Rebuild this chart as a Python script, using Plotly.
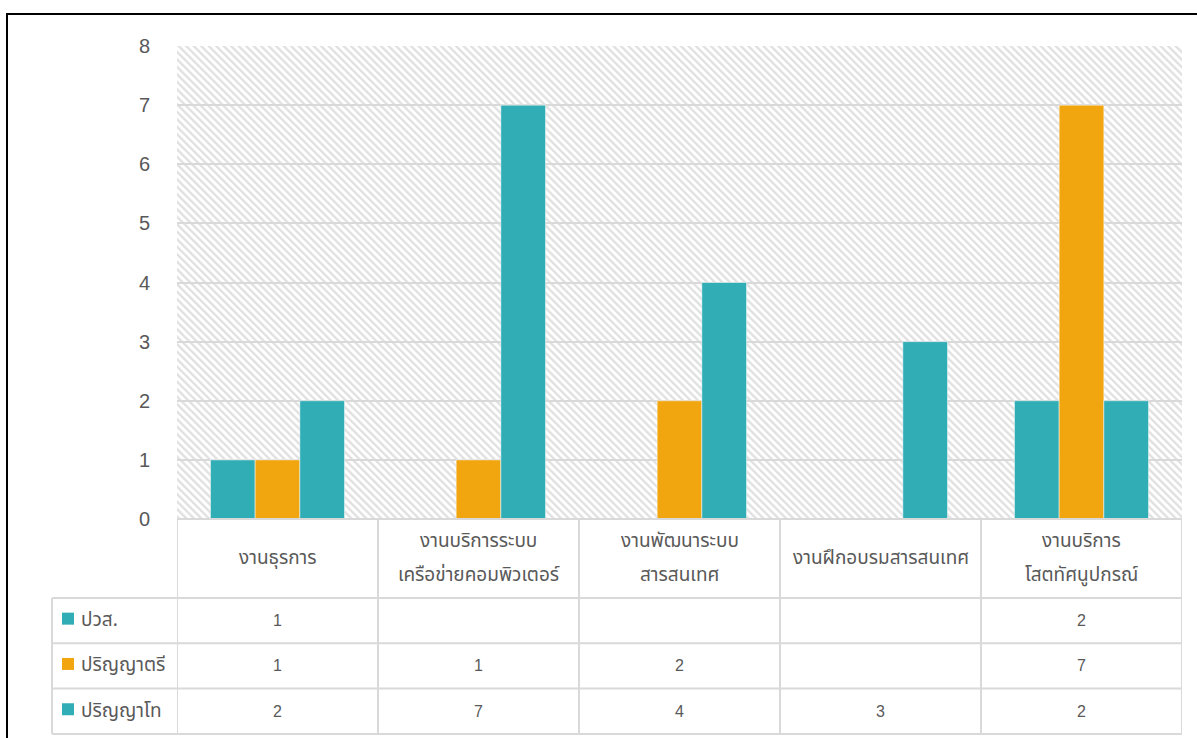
import base64
import plotly.graph_objects as go

categories = ["งานธุรการ", "งานบริการระบบ<br>เครือข่ายคอมพิวเตอร์", "งานพัฒนาระบบ<br>สารสนเทศ",
              "งานฝึกอบรมสารสนเทศ", "งานบริการ<br>โสตทัศนูปกรณ์"]
series_names = ["ปวส.", "ปริญญาตรี", "ปริญญาโท"]
diploma = [1, None, None, None, 2]
bachelor = [1, 1, 2, None, 7]
master = [2, 7, 4, 3, 2]
series_values = [diploma, bachelor, master]
series_colors = ["#31ADB6", "#F1A50F", "#31ADB6"]
y_ticks = [0, 1, 2, 3, 4, 5, 6, 7, 8]

THAI = "Tahoma, 'Noto Sans Thai', 'Leelawadee UI', sans-serif"
NUM = "'Liberation Sans', Arial, sans-serif"
TXT = "#595959"
GRID = "#D9D9D9"

# page geometry (pixels)
W, H = 1197, 738
TABLE_L, PLOT_L, PLOT_R = 52, 177, 1182
PLOT_T, PLOT_B = 46, 519
HEADER_B = 598
ROW_H = 45.3
TABLE_B = HEADER_B + ROW_H * len(series_names)
ML, MR, MT, MB = TABLE_L, W - PLOT_R, PLOT_T, H - round(TABLE_B)
paper_w = W - ML - MR
paper_h = H - MT - MB


def px(x):
    return (x - ML) / paper_w


def py(y):
    return (H - MB - y) / paper_h


fig = go.Figure()
for name, vals, col in zip(series_names, series_values, series_colors):
    fig.add_trace(go.Bar(
        x=list(range(len(categories))), y=vals, name=name,
        marker=dict(color=col, line=dict(color="rgba(255,255,255,0.5)", width=1)),
        showlegend=False, hoverinfo="y",
    ))

n = len(categories)
line = dict(color=GRID, width=2)
# data table: grid lines
for k in range(n + 1):
    fig.add_shape(type="line", xref="x", yref="paper", x0=k - 0.5, x1=k - 0.5,
                  y0=py(PLOT_B), y1=py(TABLE_B), line=line)
fig.add_shape(type="line", xref="paper", yref="paper", x0=px(TABLE_L), x1=px(TABLE_L),
              y0=py(HEADER_B), y1=py(TABLE_B), line=line)
fig.add_shape(type="line", xref="paper", yref="paper", x0=px(PLOT_L), x1=px(PLOT_R),
              y0=py(PLOT_B), y1=py(PLOT_B), line=line)
for r in range(len(series_names) + 1):
    yy = py(HEADER_B + r * ROW_H)
    fig.add_shape(type="line", xref="paper", yref="paper", x0=px(TABLE_L), x1=px(PLOT_R),
                  y0=yy, y1=yy, line=line)

# header texts
hdr_mid = (PLOT_B + HEADER_B) / 2
LINE_GAP = 34
for i, cat in enumerate(categories):
    parts = cat.split("<br>")
    for j, part in enumerate(parts):
        yc = hdr_mid + (j - (len(parts) - 1) / 2) * LINE_GAP
        fig.add_annotation(x=i, y=py(yc), xref="x", yref="paper", text=part, showarrow=False,
                           font=dict(family=THAI, size=19, color=TXT), xanchor="center", yanchor="middle")

# rows
for r, (name, vals, col) in enumerate(zip(series_names, series_values, series_colors)):
    yc = HEADER_B + (r + 0.5) * ROW_H
    fig.add_shape(type="rect", xref="paper", yref="paper", x0=px(62), x1=px(74),
                  y0=py(yc + 4), y1=py(yc - 8), line=dict(width=0), fillcolor=col)
    fig.add_annotation(x=px(79), y=py(yc), xref="paper", yref="paper", text=name, showarrow=False,
                       font=dict(family=THAI, size=19, color=TXT), xanchor="left", yanchor="middle")
    for i, v in enumerate(vals):
        if v is None:
            continue
        fig.add_annotation(x=i, y=py(yc), xref="x", yref="paper", text=str(v), showarrow=False,
                           font=dict(family=NUM, size=16, color=TXT), xanchor="center", yanchor="middle")

# hatched plot background
pw = PLOT_R - PLOT_L
ph = PLOT_B - PLOT_T
svg = (f'<svg xmlns="http://www.w3.org/2000/svg" width="{pw}" height="{ph}" viewBox="0 0 {pw} {ph}" preserveAspectRatio="none">'
       '<defs><pattern id="p" width="5.3" height="5.3" patternUnits="userSpaceOnUse" patternTransform="rotate(-45)">'
       '<rect width="5.3" height="5.3" fill="white"/>'
       '<line x1="1.2" y1="0" x2="1.2" y2="5.3" stroke="#DFDFDF" stroke-width="2.2"/></pattern></defs>'
       f'<rect width="{pw}" height="{ph}" fill="url(#p)"/></svg>')
src = "data:image/svg+xml;base64," + base64.b64encode(svg.encode()).decode()
fig.add_layout_image(dict(source=src, xref="x domain", yref="y domain", x=0, y=1,
                          sizex=1, sizey=1, xanchor="left", yanchor="top",
                          sizing="stretch", layer="below"))

# outer frame
fig.add_shape(type="rect", xref="paper", yref="paper",
              x0=px(7), x1=px(W + 20), y0=py(H + 20), y1=py(14),
              line=dict(color="black", width=2), fillcolor="rgba(0,0,0,0)")

fig.update_layout(
    width=W, height=H,
    margin=dict(l=ML, r=MR, t=MT, b=MB, autoexpand=False),
    paper_bgcolor="white", plot_bgcolor="rgba(0,0,0,0)",
    barmode="group", bargap=0.333, bargroupgap=0,
    font=dict(family=THAI, color=TXT),
    xaxis=dict(domain=[px(PLOT_L), 1], range=[-0.5, n - 0.5],
               showticklabels=False, showgrid=False, zeroline=False, showline=False, ticks=""),
    yaxis=dict(domain=[py(PLOT_B), 1], range=[0, 8], tickvals=y_ticks,
               showgrid=True, gridcolor=GRID, gridwidth=2, zeroline=False, showline=False,
               tickfont=dict(family=NUM, size=20, color=TXT),
               ticklabelstandoff=26),
)

fig.write_html("out.html", config={"displayModeBar": False},
               post_script="document.body.style.margin='0';")
